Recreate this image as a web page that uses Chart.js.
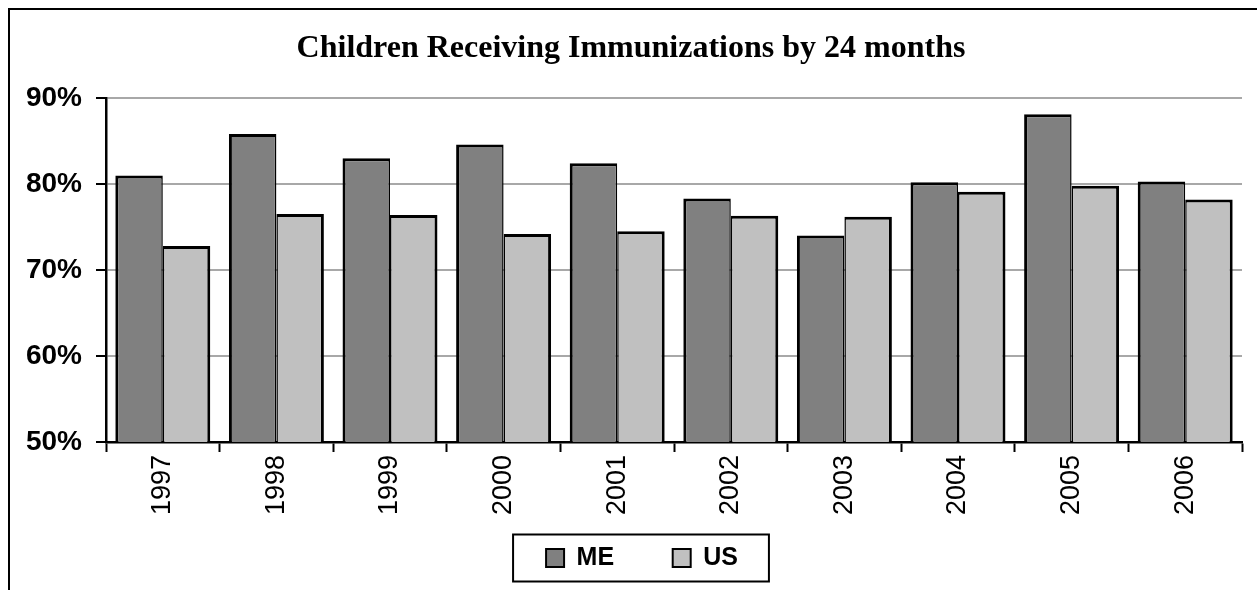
<!DOCTYPE html>
<html>
<head>
<meta charset="utf-8">
<title>Children Receiving Immunizations by 24 months</title>
<script src="https://cdn.jsdelivr.net/npm/chart.js@4/dist/chart.umd.min.js"></script>
<style>
    body { margin: 0; background: #fff; }
    canvas { display: block; }
</style>
</head>
<body>
<canvas id="immunChart" width="1257" height="590"></canvas>
<script>
// Chart data
const years = ['1997', '1998', '1999', '2000', '2001', '2002', '2003', '2004', '2005', '2006'];
const meValues = [81.0, 85.8, 83.0, 84.6, 82.4, 78.3, 74.0, 80.2, 88.1, 80.3];
const usValues = [72.8, 76.5, 76.4, 74.2, 74.5, 76.3, 76.2, 79.1, 79.8, 78.2];
const seriesNames = ['ME', 'US'];
const yTicks = [50, 60, 70, 80, 90];

const sansFont = '"Liberation Sans", Arial, sans-serif';
const serifFont = '"Liberation Serif", "Times New Roman", serif';

// White background + outer frame (clipped at right/bottom like the original)
const framePlugin = {
    id: 'frame',
    beforeDraw(chart) {
        const ctx = chart.ctx;
        ctx.save();
        ctx.fillStyle = '#fff';
        ctx.fillRect(0, 0, chart.width, chart.height);
        ctx.strokeStyle = '#000';
        ctx.lineWidth = 2;
        ctx.strokeRect(9, 9, chart.width + 100, chart.height + 100);
        ctx.restore();
    }
};

// Nudge the legend a little to the right and draw a box around it
const LEGEND_SHIFT = 11;
const legendBoxPlugin = {
    id: 'legendBox',
    afterLayout(chart) {
        const lg = chart.legend;
        lg.left += LEGEND_SHIFT;
        lg.right += LEGEND_SHIFT;
        (lg.legendHitBoxes || []).forEach(h => { h.left += LEGEND_SHIFT; });
    },
    afterDraw(chart) {
        const hb = chart.legend.legendHitBoxes;
        if (!hb || !hb.length) return;
        const first = hb[0];
        const last = hb[hb.length - 1];
        const cy = first.top + first.height / 2;
        const ctx = chart.ctx;
        ctx.save();
        ctx.strokeStyle = '#000';
        ctx.lineWidth = 2;
        ctx.strokeRect(first.left - 33, cy - 23.5, (last.left + last.width + 31) - (first.left - 33), 47);
        ctx.restore();
    }
};

const ctx = document.getElementById('immunChart').getContext('2d');
new Chart(ctx, {
    type: 'bar',
    data: {
        labels: years,
        datasets: [{
            label: seriesNames[0],
            data: meValues,
            backgroundColor: '#808080',
            borderColor: '#000',
            borderWidth: { left: 3, right: 1.5, top: 3, bottom: 0 },
            borderSkipped: false
        }, {
            label: seriesNames[1],
            data: usValues,
            backgroundColor: '#c0c0c0',
            borderColor: '#000',
            borderWidth: { left: 1.5, right: 3, top: 3, bottom: 0 },
            borderSkipped: false
        }]
    },
    options: {
        responsive: false,
        animation: false,
        devicePixelRatio: 1,
        layout: {
            padding: { left: 20, right: 15, top: 0, bottom: 9.5 }
        },
        datasets: {
            bar: {
                categoryPercentage: 0.836,
                barPercentage: 1.0,
                inflateAmount: 0
            }
        },
        scales: {
            x: {
                grid: {
                    offset: true,
                    drawOnChartArea: false,
                    tickColor: '#000',
                    tickLength: 10,
                    tickWidth: 2
                },
                border: { color: '#000', width: 2.5 },
                ticks: {
                    color: '#000',
                    font: { family: sansFont, size: 27 },
                    minRotation: 90,
                    maxRotation: 90,
                    autoSkip: false,
                    padding: 3
                },
                afterFit(scale) {
                    scale.height = 93.5;
                }
            },
            y: {
                min: yTicks[0],
                max: yTicks[yTicks.length - 1],
                afterBuildTicks(scale) {
                    scale.ticks = yTicks.map(v => ({ value: v }));
                },
                grid: {
                    color: '#a8a8a8',
                    lineWidth: 2,
                    tickColor: '#000',
                    tickLength: 10,
                    tickWidth: 2
                },
                border: { color: '#000', width: 2.5 },
                ticks: {
                    color: '#000',
                    font: { family: sansFont, size: 28, weight: 'bold' },
                    padding: 14,
                    callback: v => v + '%'
                },
                afterFit(scale) {
                    scale.width = 86;
                }
            }
        },
        plugins: {
            title: {
                display: true,
                text: 'Children Receiving Immunizations by 24 months',
                color: '#000',
                font: { family: serifFont, size: 32, weight: 'bold', lineHeight: 1.2 },
                padding: { top: 29.5, bottom: 30.1 }
            },
            legend: {
                display: true,
                position: 'bottom',
                labels: {
                    color: '#000',
                    boxWidth: 18,
                    boxHeight: 18,
                    padding: 10,
                    font: { family: sansFont, size: 25, weight: 'bold' },
                    generateLabels(chart) {
                        const items = Chart.defaults.plugins.legend.labels.generateLabels(chart);
                        return items.map((item, i) => {
                            item.lineWidth = 2;
                            item.strokeStyle = '#000';
                            // trailing gap after the first entry, like the original legend spacing
                            if (i === 0) item.text = item.text + '       ';
                            return item;
                        });
                    }
                }
            },
            tooltip: { enabled: false }
        }
    },
    plugins: [framePlugin, legendBoxPlugin]
});
</script>
</body>
</html>
